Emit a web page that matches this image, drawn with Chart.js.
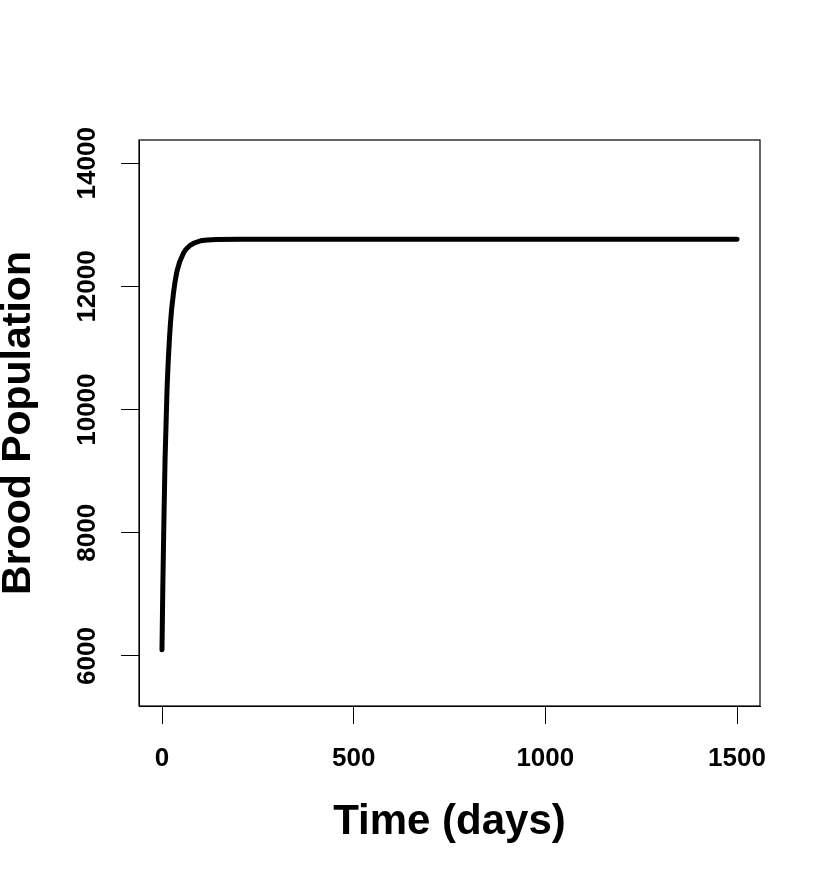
<!DOCTYPE html>
<html>
<head>
<meta charset="utf-8">
<script src="https://cdn.jsdelivr.net/npm/chart.js@4"></script>
<style>
  body { margin: 0; background: #fff; }
  #wrap { width: 830px; height: 880px; }
</style>
</head>
<body>
<div id="wrap"><canvas id="myChart"></canvas></div>
<script>
// values
const timeDays = [0, 2, 5, 8, 13, 22, 31, 40, 56, 74, 100, 130, 200, 1500];
const broodPop = [6100, 7070, 8200, 9200, 10300, 11400, 11940, 12270, 12540, 12670, 12740, 12760, 12765, 12765];
const xTicks = [0, 500, 1000, 1500];
const yTicks = [6000, 8000, 10000, 12000, 14000];

const FONT = "'Liberation Sans', Arial, Helvetica, sans-serif";

// R style closed box round the plot region
const boxPlugin = {
  id: 'box',
  afterDraw(chart) {
    const { ctx, chartArea: a } = chart;
    ctx.save();
    ctx.strokeStyle = '#000';
    ctx.lineWidth = 1.2;
    ctx.strokeRect(a.left, a.top, a.right - a.left, a.bottom - a.top);
    ctx.restore();
  },
};

const points = timeDays.map((t, i) => ({ x: t, y: broodPop[i] }));
const plain = v => String(v);

new Chart(document.getElementById('myChart'), {
  type: 'line',
  data: {
    datasets: [
      {
        data: points,
        borderColor: '#000',
        borderWidth: 5,
        borderCapStyle: 'round',
        borderJoinStyle: 'round',
        cubicInterpolationMode: 'monotone',
        pointRadius: 0,
        fill: false,
      },
    ],
  },
  options: {
    responsive: true,
    maintainAspectRatio: false,
    animation: false,
    layout: { padding: { left: 0, right: 70, top: 140, bottom: 0 } },
    plugins: {
      legend: { display: false },
      tooltip: { enabled: false },
    },
    scales: {
      x: {
        type: 'linear',
        min: -60,
        max: 1560,
        afterBuildTicks: scale => {
          scale.ticks = xTicks.map(v => ({ value: v }));
        },
        afterFit: scale => {
          scale.height = 174;
        },
        grid: { drawOnChartArea: false, drawTicks: true, tickLength: 18, color: '#000', lineWidth: 1 },
        border: { display: true, color: '#000', width: 1 },
        ticks: {
          color: '#000',
          padding: 19,
          maxRotation: 0,
          autoSkip: false,
          callback: plain,
          font: { family: FONT, size: 26, weight: 'bold', lineHeight: 1.2 },
        },
        title: {
          display: true,
          text: 'Time (days)',
          color: '#000',
          padding: { top: 0, bottom: 37 },
          font: { family: FONT, size: 42, weight: 'bold', lineHeight: 1 },
        },
      },
      y: {
        type: 'linear',
        min: 5188,
        max: 14378,
        afterBuildTicks: scale => {
          scale.ticks = yTicks.map(v => ({ value: v }));
        },
        afterFit: scale => {
          scale.width = 139;
        },
        grid: { drawOnChartArea: false, drawTicks: true, tickLength: 18, color: '#000', lineWidth: 1 },
        border: { display: true, color: '#000', width: 1 },
        ticks: {
          color: '#000',
          padding: -3,
          minRotation: 90,
          maxRotation: 90,
          crossAlign: 'center',
          autoSkip: false,
          callback: plain,
          font: { family: FONT, size: 26, weight: 'bold', lineHeight: 1.2 },
        },
        title: {
          display: true,
          text: 'Brood Population',
          color: '#000',
          padding: { top: 0, bottom: 0 },
          font: { family: FONT, size: 41, weight: 'bold', lineHeight: 0.9 },
        },
      },
    },
  },
  plugins: [boxPlugin],
});
</script>
</body>
</html>
